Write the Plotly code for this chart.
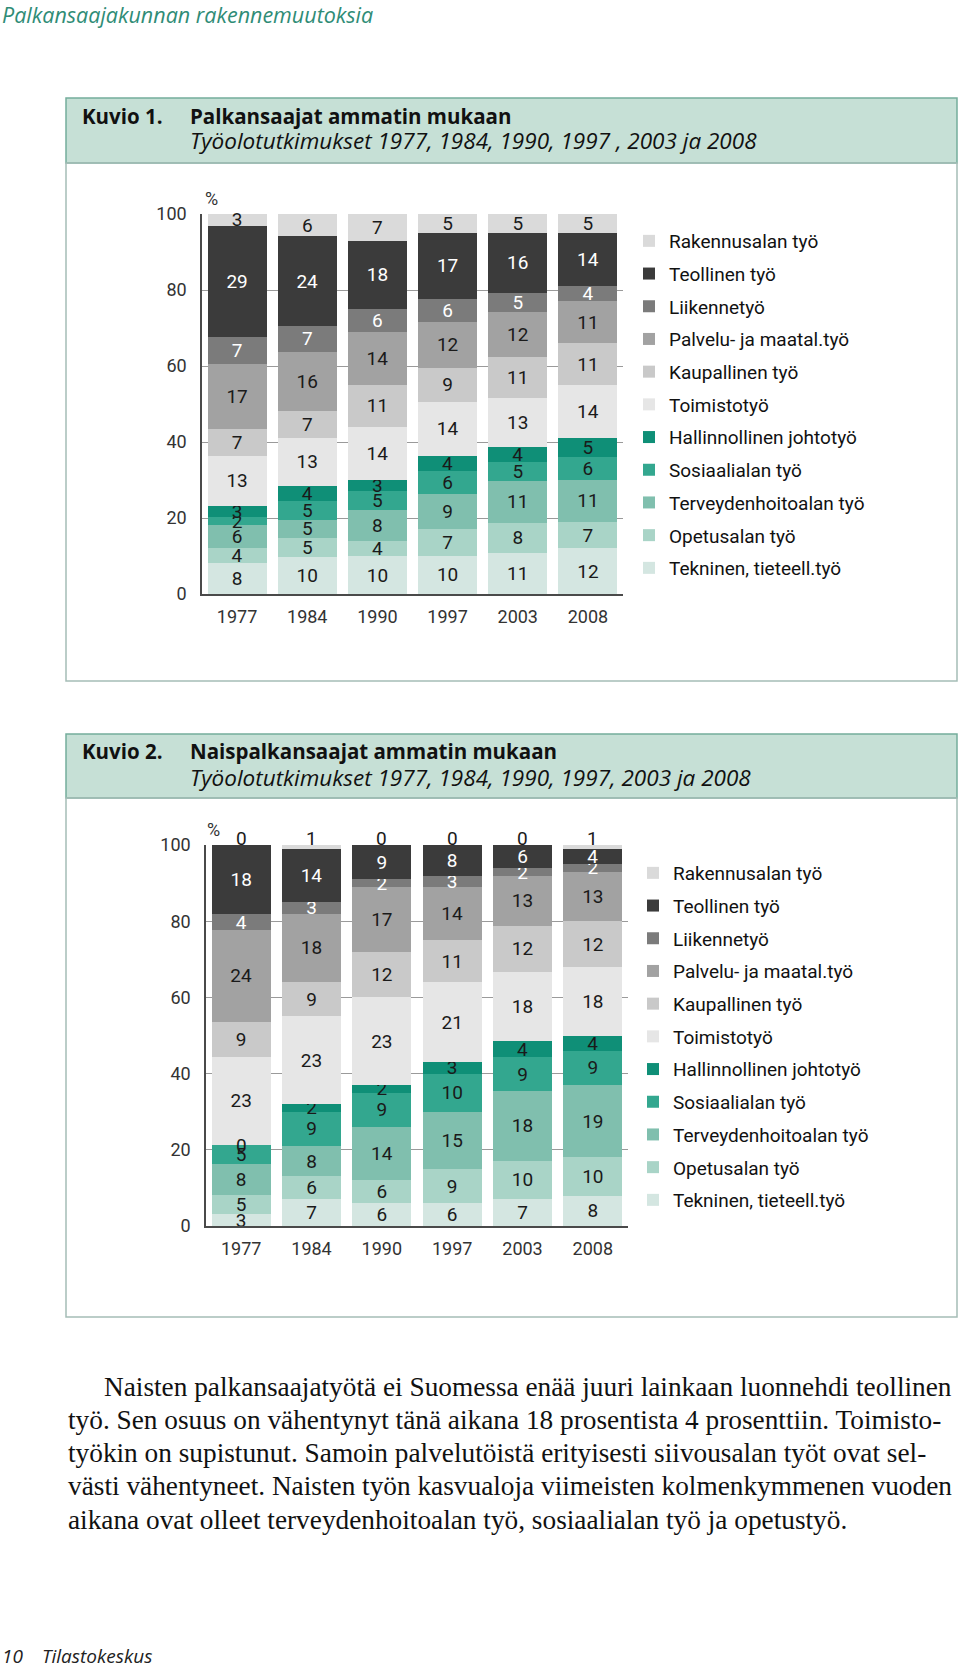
import plotly.graph_objects as go

W, H = 960, 1672

years = ["1977", "1984", "1990", "1997", "2003", "2008"]
categories = ["Rakennusalan työ", "Teollinen työ", "Liikennetyö", "Palvelu- ja maatal.työ",
              "Kaupallinen työ", "Toimistotyö", "Hallinnollinen johtotyö", "Sosiaalialan työ",
              "Terveydenhoitoalan työ", "Opetusalan työ", "Tekninen, tieteell.työ"]

# Kuvio 1: all wage earners (%)
all_rakennus = [3, 6, 7, 5, 5, 5]
all_teollinen = [29, 24, 18, 17, 16, 14]
all_liikenne = [7, 7, 6, 6, 5, 4]
all_palvelu = [17, 16, 14, 12, 12, 11]
all_kaupallinen = [7, 7, 11, 9, 11, 11]
all_toimisto = [13, 13, 14, 14, 13, 14]
all_hallinto = [3, 4, 3, 4, 4, 5]
all_sosiaali = [2, 5, 5, 6, 5, 6]
all_terveys = [6, 5, 8, 9, 11, 11]
all_opetus = [4, 5, 4, 7, 8, 7]
all_tekninen = [8, 10, 10, 10, 11, 12]

# Kuvio 2: women wage earners (%)
women_rakennus = [0, 1, 0, 0, 0, 1]
women_teollinen = [18, 14, 9, 8, 6, 4]
women_liikenne = [4, 3, 2, 3, 2, 2]
women_palvelu = [24, 18, 17, 14, 13, 13]
women_kaupallinen = [9, 9, 12, 11, 12, 12]
women_toimisto = [23, 23, 23, 21, 18, 18]
women_hallinto = [0, 2, 2, 3, 4, 4]
women_sosiaali = [5, 9, 9, 10, 9, 9]
women_terveys = [8, 8, 14, 15, 18, 19]
women_opetus = [5, 6, 6, 9, 10, 10]
women_tekninen = [3, 7, 6, 6, 7, 8]

colors = ["#dadada", "#3b3b3b", "#7b7b7b", "#a2a2a2", "#c9c9c9", "#e6e6e6",
          "#0f8f77", "#33a78f", "#80bfae", "#a9d4c7", "#d4e6e1"]
text_colors = ["#1a1a1a", "#ffffff", "#ffffff"] + ["#1a1a1a"] * 8

paragraph = [
    "Naisten palkansaajatyötä ei Suomessa enää juuri lainkaan luonnehdi teollinen",
    "työ. Sen osuus on vähentynyt tänä aikana 18 prosentista 4 prosenttiin. Toimisto-",
    "työkin on supistunut. Samoin palvelutöistä erityisesti siivousalan työt ovat sel-",
    "västi vähentyneet. Naisten työn kasvualoja viimeisten kolmenkymmenen vuoden",
    "aikana ovat olleet terveydenhoitoalan työ, sosiaalialan työ ja opetustyö.",
]

all_series = [all_rakennus, all_teollinen, all_liikenne, all_palvelu, all_kaupallinen,
              all_toimisto, all_hallinto, all_sosiaali, all_terveys, all_opetus, all_tekninen]
women_series = [women_rakennus, women_teollinen, women_liikenne, women_palvelu,
                women_kaupallinen, women_toimisto, women_hallinto, women_sosiaali,
                women_terveys, women_opetus, women_tekninen]

CHART_FONT = "Roboto, sans-serif"
HEAD_FONT = "Open Sans, sans-serif"
BAR_TXT = 19


def px(x):
    return x / W


def py(y):
    return 1 - y / H


fig = go.Figure()

charts = [
    dict(series=all_series, xa="x", ya="y", legend="legend", top_above=False),
    dict(series=women_series, xa="x2", ya="y2", legend="legend2", top_above=True),
]

annotations = []

for ci, ch in enumerate(charts):
    series = ch["series"]
    totals = [sum(s[j] for s in series) for j in range(len(years))]
    # stack from bottom (last category) to top (first category)
    for k in range(len(categories) - 1, -1, -1):
        vals = series[k]
        is_top = (k == 0)
        label_above = is_top and ch["top_above"]
        fig.add_trace(go.Bar(
            x=years, y=vals, name=categories[k],
            xaxis=ch["xa"], yaxis=ch["ya"], legend=ch["legend"],
            legendgroup=f"c{ci}_{k}", legendrank=k + 1,
            marker=dict(color=colors[k], line=dict(width=0)),
            text=[str(v) for v in vals], texttemplate="%{text}",
            textposition="none" if label_above else "inside",
            textangle=0, constraintext="none",
            insidetextanchor="middle",
            insidetextfont=dict(family=CHART_FONT, size=BAR_TXT, color=text_colors[k]),
            cliponaxis=False, hoverinfo="skip",
        ))
        for j, v in enumerate(vals):
            top_of_stack = sum(series[m][j] for m in range(k, len(categories))) / totals[j] * 100
            if label_above:
                # top-row labels sit just above the stack
                annotations.append(dict(
                    x=j, y=top_of_stack, xref=ch["xa"], yref=ch["ya"],
                    text=str(v), showarrow=False, yanchor="middle", yshift=7,
                    font=dict(family=CHART_FONT, size=BAR_TXT, color="#1a1a1a")))
            elif v == 0:
                # zero-valued segments get no bar text; label them at their stack level
                annotations.append(dict(
                    x=j, y=top_of_stack, xref=ch["xa"], yref=ch["ya"],
                    text="0", showarrow=False,
                    font=dict(family=CHART_FONT, size=BAR_TXT, color=text_colors[k])))

axis_common = dict(showline=True, linecolor="#4a4a4a", linewidth=1.5, ticks="",
                   automargin=False,
                   tickfont=dict(family=CHART_FONT, size=18, color="#333333"))
grid_minor = dict(tickvals=[20, 40, 60, 80], showgrid=True, gridcolor="#9a9a9a",
                  gridwidth=1, ticks="")

legend_common = dict(xanchor="left", yanchor="top", traceorder="grouped", tracegroupgap=5,
                     font=dict(family=CHART_FONT, size=19, color="#111111"),
                     bgcolor="rgba(0,0,0,0)")

fig.update_layout(
    width=W, height=H, margin=dict(l=0, r=0, t=0, b=0, autoexpand=False),
    paper_bgcolor="white", plot_bgcolor="rgba(0,0,0,0)",
    barmode="stack", barnorm="percent", bargap=0.16,
    showlegend=True,
    xaxis=dict(domain=[px(202), px(623)], anchor="y", type="category",
               ticklabelstandoff=6, **axis_common),
    yaxis=dict(domain=[py(594), py(214)], anchor="x", range=[0, 100.02],
               tickvals=[0, 20, 40, 60, 80, 100], showgrid=False, zeroline=False,
               minor=grid_minor, ticklabelstandoff=10, **axis_common),
    xaxis2=dict(domain=[px(206), px(628)], anchor="y2", type="category",
                ticklabelstandoff=6, **axis_common),
    yaxis2=dict(domain=[py(1226), py(845)], anchor="x2", range=[0, 100.02],
                tickvals=[0, 20, 40, 60, 80, 100], showgrid=False, zeroline=False,
                minor=grid_minor, ticklabelstandoff=10, **axis_common),
    legend=dict(x=px(629), y=py(222), **legend_common),
    legend2=dict(x=px(633), y=py(854), **legend_common),
)

shapes = []
for (top, mid, bot) in [(98, 163, 681), (734, 798, 1317)]:
    shapes.append(dict(type="rect", xref="paper", yref="paper",
                       x0=px(66), x1=px(957), y0=py(mid), y1=py(top),
                       fillcolor="#c6e0d6", line=dict(color="#74ad9c", width=1.5), layer="below"))
    shapes.append(dict(type="rect", xref="paper", yref="paper",
                       x0=px(66), x1=px(957), y0=py(bot), y1=py(mid),
                       fillcolor="rgba(0,0,0,0)", line=dict(color="#a5bdb6", width=1.5), layer="below"))
fig.update_layout(shapes=shapes)


def ann(x, y, text, size, color="#111111", family=HEAD_FONT, style="normal", weight="normal",
        xanchor="left"):
    annotations.append(dict(x=px(x), y=py(y), xref="paper", yref="paper", text=text,
                            showarrow=False, xanchor=xanchor, yanchor="middle",
                            font=dict(family=family, size=size, color=color, style=style,
                                      weight=weight)))


ann(0, 14, "Palkansaajakunnan rakennemuutoksia", 21.5, color="#2f8c76", style="italic")
ann(80, 116, "Kuvio 1.", 20.5, weight="bold")
ann(188, 116, "Palkansaajat ammatin mukaan", 20.5, weight="bold")
ann(188, 140, "Työolotutkimukset 1977, 1984, 1990, 1997 , 2003 ja 2008", 22.5, style="italic")
ann(80, 751, "Kuvio 2.", 20.5, weight="bold")
ann(188, 751, "Naispalkansaajat ammatin mukaan", 20.5, weight="bold")
ann(188, 777, "Työolotutkimukset 1977, 1984, 1990, 1997, 2003 ja 2008", 22.5, style="italic")
ann(203, 198, "%", 18, color="#333333", family=CHART_FONT)
ann(205, 829, "%", 18, color="#333333", family=CHART_FONT)

line_y = [1387, 1420, 1453, 1486, 1520]
for i, (t, yy) in enumerate(zip(paragraph, line_y)):
    ann(102 if i == 0 else 66, yy, t, 27.3, color="#111111", family="Liberation Serif, serif")

ann(0, 1656, "10", 19, color="#222222", style="italic")
ann(40, 1656, "Tilastokeskus", 19, color="#222222", style="italic")

fig.update_layout(annotations=annotations)

fig.write_html("out.html", config={"displayModeBar": False},
               post_script="document.body.style.margin='0';")
